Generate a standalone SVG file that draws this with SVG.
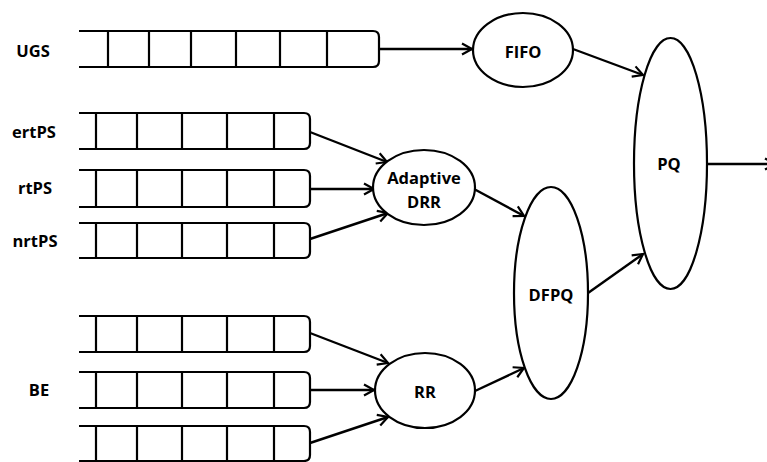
<svg xmlns="http://www.w3.org/2000/svg" width="767" height="462" viewBox="0 0 767 462">
<style>
.q{fill:none;stroke:#000;stroke-width:2.2}
.n{fill:#fff;stroke:#000;stroke-width:2.2}
.t{font-family:"Open Sans","Liberation Sans",sans-serif;font-weight:bold;font-size:16.5px;fill:#000;text-anchor:middle;dominant-baseline:central}
.c{fill:none;stroke:#000;stroke-width:2.4}
</style>
<defs>
<marker id="a" markerUnits="userSpaceOnUse" markerWidth="14" markerHeight="14" refX="11" refY="7" orient="auto">
<path d="M1,1.5 L11,7 L1,12.5" fill="none" stroke="#000" stroke-width="2.2"/>
</marker>
</defs>
<g id="labels">
<text class="t" x="33" y="50">UGS</text>
<text class="t" x="34" y="131">ertPS</text>
<text class="t" x="35" y="187">rtPS</text>
<text class="t" x="35" y="240">nrtPS</text>
<text class="t" x="39" y="389">BE</text>
</g>
<g id="q-ugs">
<path class="q" d="M79,31 H373 Q379,31 379,37 V61 Q379,67 373,67 H79"/>
<path class="q" d="M108,31V67M149,31V67M191,31V67M236,31V67M280,31V67M327,31V67"/>
</g>
<g id="q-ertps">
<path class="q" d="M79,113 H304 Q310,113 310,119 V143 Q310,149 304,149 H79"/>
<path class="q" d="M96,113V149M137,113V149M182,113V149M227,113V149M274,113V149"/>
</g>
<g id="q-rtps">
<path class="q" d="M79,170 H304 Q310,170 310,176 V201 Q310,207 304,207 H79"/>
<path class="q" d="M96,170V207M137,170V207M182,170V207M227,170V207M274,170V207"/>
</g>
<g id="q-nrtps">
<path class="q" d="M79,223 H304 Q310,223 310,229 V252 Q310,258 304,258 H79"/>
<path class="q" d="M96,223V258M137,223V258M182,223V258M227,223V258M274,223V258"/>
</g>
<g id="q-be1">
<path class="q" d="M79,316 H304 Q310,316 310,322 V346 Q310,352 304,352 H79"/>
<path class="q" d="M96,316V352M137,316V352M182,316V352M227,316V352M274,316V352"/>
</g>
<g id="q-be2">
<path class="q" d="M79,372 H304 Q310,372 310,378 V402 Q310,408 304,408 H79"/>
<path class="q" d="M96,372V408M137,372V408M182,372V408M227,372V408M274,372V408"/>
</g>
<g id="q-be3">
<path class="q" d="M79,426 H304 Q310,426 310,432 V455 Q310,461 304,461 H79"/>
<path class="q" d="M96,426V461M137,426V461M182,426V461M227,426V461M274,426V461"/>
</g>
<g id="connectors">
<line class="c" x1="379" y1="49" x2="472" y2="49" marker-end="url(#a)"/>
<line class="c" x1="573" y1="49" x2="643" y2="75" marker-end="url(#a)"/>
<line class="c" x1="707" y1="164" x2="775" y2="164" marker-end="url(#a)"/>
<line class="c" x1="310" y1="132" x2="387" y2="162" marker-end="url(#a)"/>
<line class="c" x1="310" y1="189" x2="374" y2="189" marker-end="url(#a)"/>
<line class="c" x1="310" y1="239" x2="388" y2="213" marker-end="url(#a)"/>
<line class="c" x1="310" y1="333" x2="388" y2="363" marker-end="url(#a)"/>
<line class="c" x1="310" y1="390" x2="374" y2="390" marker-end="url(#a)"/>
<line class="c" x1="310" y1="443" x2="388" y2="417" marker-end="url(#a)"/>
<line class="c" x1="474" y1="189" x2="524" y2="216" marker-end="url(#a)"/>
<line class="c" x1="475" y1="391" x2="524" y2="368" marker-end="url(#a)"/>
<line class="c" x1="588" y1="293" x2="643" y2="254" marker-end="url(#a)"/>
</g>
<g id="fifo">
<ellipse class="n" cx="523" cy="50" rx="50" ry="37"/>
<text class="t" x="523" y="51">FIFO</text>
</g>
<g id="pq">
<ellipse class="n" cx="670.5" cy="163.5" rx="36.5" ry="125.5"/>
<text class="t" x="669" y="163">PQ</text>
</g>
<g id="adrr">
<ellipse class="n" cx="424" cy="187.5" rx="51" ry="37.5"/>
<text class="t" x="424" y="177">Adaptive</text>
<text class="t" x="424" y="201">DRR</text>
</g>
<g id="dfpq">
<ellipse class="n" cx="551" cy="293" rx="37" ry="106"/>
<text class="t" x="551" y="294">DFPQ</text>
</g>
<g id="rr">
<ellipse class="n" cx="425" cy="390.5" rx="50" ry="37.5"/>
<text class="t" x="425" y="391">RR</text>
</g>
</svg>
